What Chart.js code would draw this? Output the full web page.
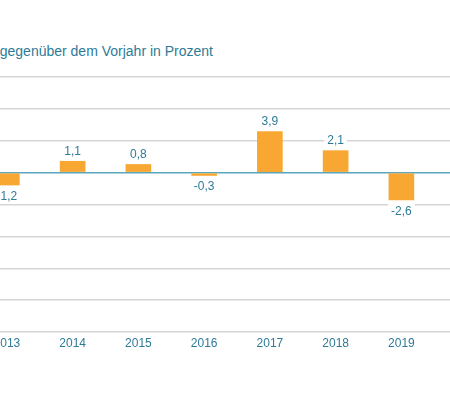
<!DOCTYPE html>
<html>
<head>
<meta charset="utf-8">
<script src="https://cdn.jsdelivr.net/npm/chart.js@4/dist/chart.umd.min.js"></script>
<style>
  html, body { margin: 0; padding: 0; background: #fff; overflow: hidden; width: 450px; height: 395px; }
  #title { position: absolute; top: 43px; left: -200px; width: 413px; text-align: right;
           font: 14px "Liberation Sans", Arial, sans-serif; line-height: 16px; color: #2e7b98; white-space: nowrap; }
  #wrap { position: absolute; left: -26px; top: 0; width: 526px; height: 395px; }
</style>
</head>
<body>
<div id="title">Veränderung gegenüber dem Vorjahr in Prozent</div>
<div id="wrap"><canvas id="c"></canvas></div>
<script>
const categories = ["2013", "2014", "2015", "2016", "2017", "2018", "2019", "2020"];
const values = [-1.2, 1.1, 0.8, -0.3, 3.9, 2.1, -2.6, null];
const yMin = -15, yMax = 9, yStep = 3;

const teal = '#2e7b98';
const fmt = v => v.toFixed(1).replace('.', ',');

const labelPlugin = {
  id: 'valueLabels',
  afterDatasetsDraw(chart) {
    const ctx = chart.ctx;
    const meta = chart.getDatasetMeta(0);
    ctx.save();
    ctx.font = '12px "Liberation Sans", Arial, sans-serif';
    ctx.textAlign = 'center';
    ctx.textBaseline = 'middle';
    meta.data.forEach((el, i) => {
      const v = values[i];
      if (v === null || v === undefined) return;
      const txt = fmt(v);
      const y = v >= 0 ? el.y - 10 : el.y + 10.7;
      const w = ctx.measureText(txt).width + 6;
      ctx.fillStyle = '#ffffff';
      ctx.fillRect(el.x - w / 2, y - 7, w, 14);
      ctx.fillStyle = teal;
      ctx.fillText(txt, el.x, y + 0.5);
    });
    ctx.restore();
  }
};

new Chart(document.getElementById('c'), {
  type: 'bar',
  data: {
    labels: categories,
    datasets: [{
      data: values,
      backgroundColor: '#f8a733',
      borderWidth: 0,
      categoryPercentage: 1,
      barPercentage: 0.39
    }]
  },
  options: {
    responsive: true,
    maintainAspectRatio: false,
    animation: false,
    devicePixelRatio: 1,
    layout: { padding: { top: 77, bottom: 33, left: 0, right: 0 } },
    plugins: { legend: { display: false }, tooltip: { enabled: false }, title: { display: false } },
    scales: {
      x: {
        grid: { display: false, drawTicks: false },
        border: { display: false },
        ticks: { color: teal, padding: 4.5, font: { size: 12, family: '"Liberation Sans", Arial, sans-serif' } },
        afterFit: s => { s.height = 30; }
      },
      y: {
        min: yMin, max: yMax,
        ticks: { display: false, stepSize: yStep },
        grid: {
          drawTicks: false,
          color: c => c.tick && c.tick.value === 0 ? '#5ba6ba' : '#d6d6d6',
          lineWidth: 1.5
        },
        border: { display: false },
        afterFit: s => { s.width = 0; }
      }
    }
  },
  plugins: [labelPlugin]
});
</script>
</body>
</html>
